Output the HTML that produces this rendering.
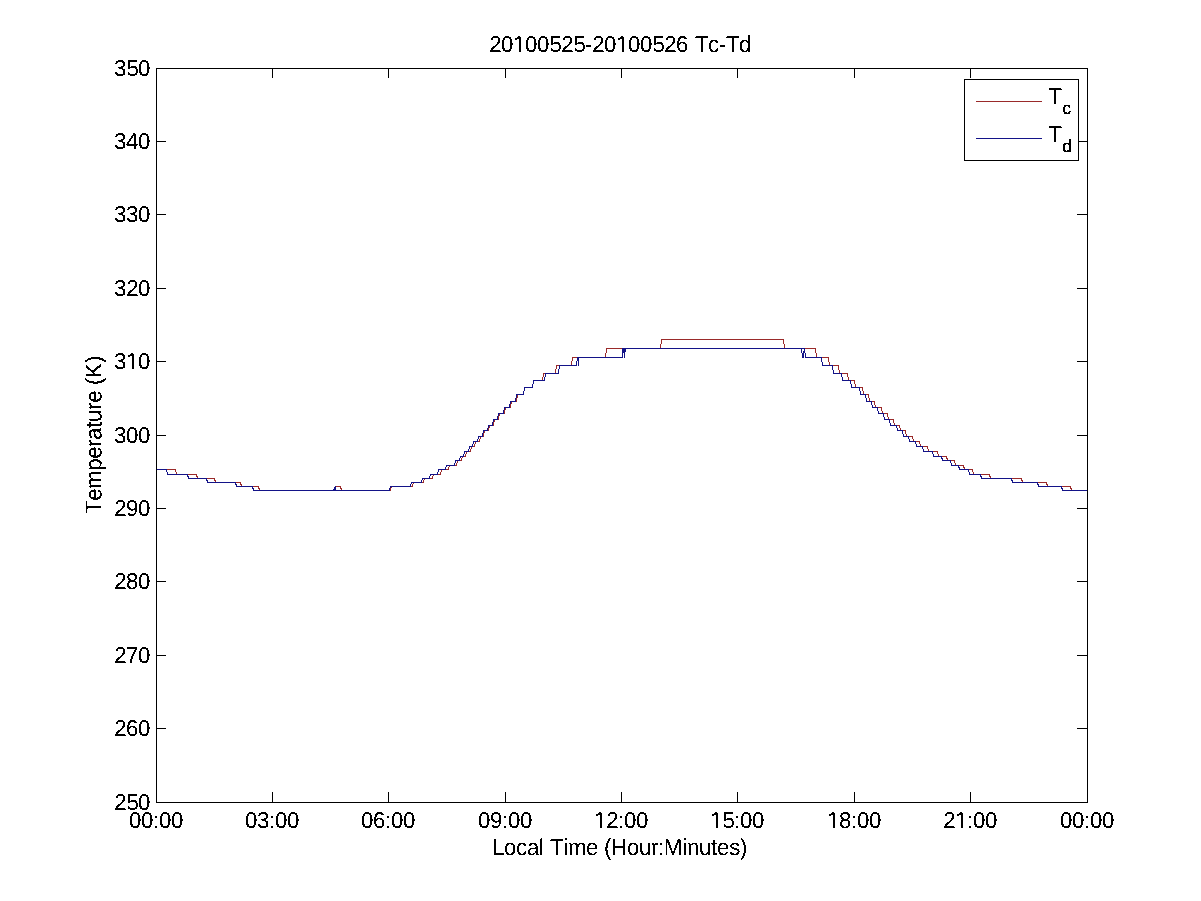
<!DOCTYPE html>
<html lang="en">
<head>
<meta charset="utf-8">
<title>20100525-20100526 Tc-Td</title>
<style>
html,body{margin:0;padding:0;background:#fff;}
body{width:1201px;height:901px;overflow:hidden;}
svg{display:block;}
text{font-kerning:none;text-rendering:geometricPrecision;font-family:"Liberation Sans",Arial,Helvetica,sans-serif;font-size:22.3px;fill:#000;}
.sub{font-size:16.8px;stroke:#000;stroke-width:0.35px;}
</style>
</head>
<body>
<svg width="1201" height="901" viewBox="0 0 1201 901">
<defs>
<filter id="crisp" x="-5%" y="-5%" width="110%" height="110%" color-interpolation-filters="sRGB">
<feComponentTransfer><feFuncA type="discrete" tableValues="0 0 0 0 0 0 0 0 0 1 1 1 1 1 1 1 1 1 1 1"/></feComponentTransfer>
</filter>
</defs>
<rect x="0" y="0" width="1201" height="901" fill="#fff"/>
<g shape-rendering="crispEdges" fill="none" stroke-width="1">
<path d="M156.5 469.5H175.5L176.5 474.5H196.5L197.5 478.5H214.5L215.5 482.5H240.5L241.5 486.5H258.5L259.5 490.5H334.5L335.5 486.5H340.5L341.5 490.5H390.5L391.5 486.5H412.5L413.5 482.5H423.5L424.5 478.5H432.5L433.5 474.5H440.5L441.5 469.5H448.5L449.5 465.5H456.5L457.5 460.5H461.5L462.5 456.5H465.5L466.5 451.5H470.5L471.5 446.5H474.5L475.5 441.5H479.5L480.5 436.5H483.5L484.5 430.5H488.5L489.5 425.5H493.5L494.5 419.5H498.5L499.5 413.5H504.5L505.5 407.5H510.5L511.5 401.5H516.5L517.5 394.5H523.5L524.5 387.5H532.5L533.5 380.5H542.5L543.5 373.5H555.5L556.5 365.5H571.5L572.5 357.5H605.5L606.5 348.5H660.5L661.5 339.5H783.5L784.5 348.5H815.5L816.5 357.5H828.5L829.5 365.5H838.5L839.5 373.5H847.5L848.5 380.5H854.5L855.5 387.5H862.5L863.5 394.5H868.5L869.5 401.5H874.5L875.5 407.5H881.5L882.5 413.5H887.5L888.5 419.5H893.5L894.5 425.5H899.5L900.5 430.5H905.5L906.5 436.5H912.5L913.5 441.5H919.5L920.5 446.5H927.5L928.5 451.5H937.5L938.5 456.5H946.5L947.5 460.5H954.5L955.5 465.5H963.5L964.5 469.5H972.5L973.5 474.5H989.5L990.5 478.5H1021.5L1022.5 482.5H1046.5L1047.5 486.5H1070.5L1071.5 490.5H1087.5" stroke="#9a2a2a"/>
<path d="M156.5 469.5H166.5L167.5 474.5H187.5L188.5 478.5H206.5L207.5 482.5H235.5L236.5 486.5H252.5L253.5 490.5H333.5L335.5 486.5V490.5H389.5L390.5 486.5H410.5L411.5 482.5H421.5L422.5 478.5H429.5L430.5 474.5H437.5L438.5 469.5H445.5L446.5 465.5H454.5L455.5 460.5H459.5L460.5 456.5H463.5L464.5 451.5H468.5L469.5 446.5H472.5L473.5 441.5H477.5L478.5 436.5H482.5L483.5 430.5H487.5L488.5 425.5H492.5L493.5 419.5H497.5L498.5 413.5H503.5L504.5 407.5H509.5L510.5 401.5H515.5L516.5 394.5H523.5L524.5 387.5H532.5L533.5 380.5H544.5L545.5 373.5H558.5L559.5 365.5H576.5L577.5 357.5H578.5V365.5V357.5H622.5V348.5H801.5L802.5 357.5H803.5V353L804.5 348.5L805.5 357.5H821.5L822.5 365.5H832.5L833.5 373.5H841.5L842.5 380.5H850.5L851.5 387.5H859.5L860.5 394.5H865.5L866.5 401.5H871.5L872.5 407.5H877.5L878.5 413.5H883.5L884.5 419.5H889.5L890.5 425.5H896.5L897.5 430.5H902.5L903.5 436.5H908.5L909.5 441.5H915.5L916.5 446.5H922.5L923.5 451.5H932.5L933.5 456.5H941.5L942.5 460.5H950.5L951.5 465.5H958.5L959.5 469.5H968.5L969.5 474.5H980.5L981.5 478.5H1011.5L1012.5 482.5H1037.5L1038.5 486.5H1061.5L1062.5 490.5H1087.5M623.5 348V353M624.5 358V348M625.5 348V352M801 348.5H805M333 490.5H337" stroke="#131388"/>
<rect x="156.5" y="68.5" width="931.0" height="734.0" stroke="#000"/>
<path d="M272.5 802V792M272.5 69V78M388.5 802V792M388.5 69V78M505.5 802V792M505.5 69V78M621.5 802V792M621.5 69V78M737.5 802V792M737.5 69V78M854.5 802V792M854.5 69V78M970.5 802V792M970.5 69V78M157 141.5H166M1087 141.5H1077M157 214.5H166M1087 214.5H1077M157 288.5H166M1087 288.5H1077M157 361.5H166M1087 361.5H1077M157 435.5H166M1087 435.5H1077M157 508.5H166M1087 508.5H1077M157 581.5H166M1087 581.5H1077M157 655.5H166M1087 655.5H1077M157 728.5H166M1087 728.5H1077" stroke="#000"/>
<rect x="964.5" y="79.5" width="114" height="81" fill="#fff" stroke="#000"/>
<path d="M976 101.5H1042" stroke="#9a2a2a"/>
<path d="M976 138.5H1042" stroke="#131388"/>
</g>
<g filter="url(#crisp)">
<text transform="scale(1 1.03)" x="489.25 501 513 525 537 549.5 561.25 573.5 585 592.25 604 616 628 640 652.5 664.25 676 688 695 708 719 726 739" y="50.49">20100525-20100526 Tc-Td</text><path d="M515.0 50h4v2h-4zM521.0 50h4v2h-4z" fill="#fff"/><path d="M618.0 50h4v2h-4zM624.0 50h4v2h-4z" fill="#fff"/>
<text transform="scale(1 1.03)" x="492 504 516 527 539 544 550 563.25 568 586 598 604 611 627 639 651 658 663.75 682.25 687 699 711 717 729.25 740" y="830.10">Local Time (Hour:Minutes)</text>
<g transform="translate(101 435) rotate(-90)"><text transform="scale(1 1.03)" x="-79 -65.75 -54 -35.75 -23.75 -12 -5 7 13 25 32.25 44 50 57 72" y="0.00">Temperature (K)</text></g>
<text transform="scale(1 1.03)" x="129 141 153 159 171" y="803.88">00:00</text>
<text transform="scale(1 1.03)" x="245 257 269 275 287" y="803.88">03:00</text>
<text transform="scale(1 1.03)" x="361 373 385 391 403" y="803.88">06:00</text>
<text transform="scale(1 1.03)" x="478 490 502 508 520" y="803.88">09:00</text>
<text transform="scale(1 1.03)" x="594 606.25 618 624 636" y="803.88">12:00</text><path d="M596.0 826h4v2h-4zM602.0 826h4v2h-4z" fill="#fff"/>
<text transform="scale(1 1.03)" x="710 722.5 734 740 752" y="803.88">15:00</text><path d="M712.0 826h4v2h-4zM718.0 826h4v2h-4z" fill="#fff"/>
<text transform="scale(1 1.03)" x="827 839 851 857 869" y="803.88">18:00</text><path d="M829.0 826h4v2h-4zM835.0 826h4v2h-4z" fill="#fff"/>
<text transform="scale(1 1.03)" x="943.25 955 967 973 985" y="803.88">21:00</text><path d="M957.0 826h4v2h-4zM963.0 826h4v2h-4z" fill="#fff"/>
<text transform="scale(1 1.03)" x="1060 1072 1084 1090 1102" y="803.88">00:00</text>
<text transform="scale(1 1.03)" x="114 126.5 138" y="73.79">350</text>
<text transform="scale(1 1.03)" x="114 126 138" y="144.66">340</text>
<text transform="scale(1 1.03)" x="114 126 138" y="215.53">330</text>
<text transform="scale(1 1.03)" x="114 126.25 138" y="287.38">320</text>
<text transform="scale(1 1.03)" x="114 126 138" y="358.25">310</text><path d="M128.0 367h4v2h-4zM134.0 367h4v2h-4z" fill="#fff"/>
<text transform="scale(1 1.03)" x="114 126 138" y="430.10">300</text>
<text transform="scale(1 1.03)" x="114.25 126 138" y="500.97">290</text>
<text transform="scale(1 1.03)" x="114.25 126 138" y="571.84">280</text>
<text transform="scale(1 1.03)" x="114.25 126 138" y="643.69">270</text>
<text transform="scale(1 1.03)" x="114.25 126 138" y="714.56">260</text>
<text transform="scale(1 1.03)" x="114.25 126.5 138" y="786.41">250</text>
<text transform="scale(1 1.03)" x="1048.5" y="100.97">T</text><text class="sub" transform="scale(1 1.03)" x="1062.5" y="110.68">c</text>
<text transform="scale(1 1.03)" x="1048.5" y="137.86">T</text><text class="sub" transform="scale(1 1.03)" x="1062.5" y="147.57">d</text>
</g>
</svg>
</body>
</html>
